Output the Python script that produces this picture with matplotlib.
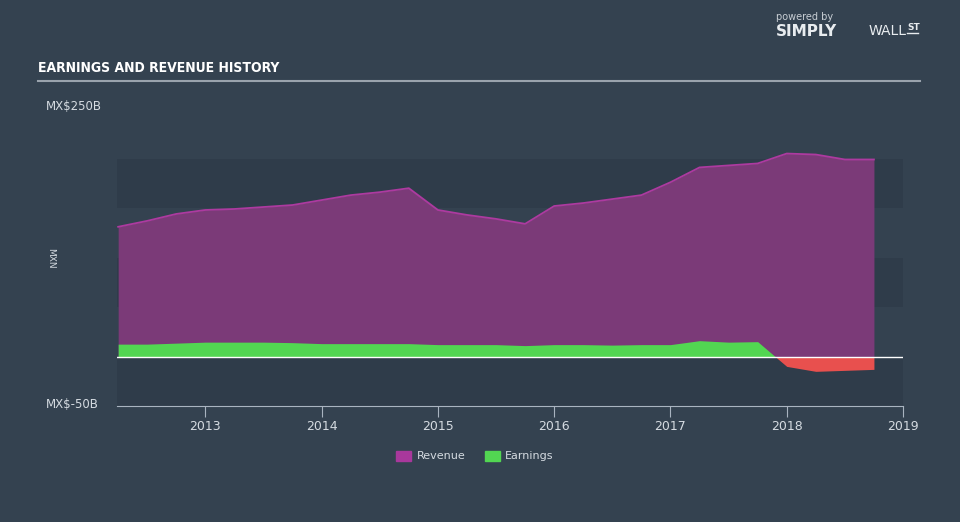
import matplotlib
matplotlib.use("Agg")
import matplotlib.pyplot as plt
from matplotlib.patches import Patch
from matplotlib import font_manager

# quarterly data, MXN billions
dates = [2012.25, 2012.5, 2012.75, 2013.0, 2013.25, 2013.5, 2013.75,
         2014.0, 2014.25, 2014.5, 2014.75, 2015.0, 2015.25, 2015.5, 2015.75,
         2016.0, 2016.25, 2016.5, 2016.75, 2017.0, 2017.25, 2017.5, 2017.75,
         2018.0, 2018.25, 2018.5, 2018.75]
revenue = [131, 137, 144, 148, 149, 151, 153,
           158, 163, 166, 170, 148, 143, 139, 134,
           152, 155, 159, 163, 176, 191, 193, 195,
           205, 204, 199, 199]
earnings = [12.5, 12.5, 13.5, 14.5, 14.5, 14.5, 14,
            13, 13, 13, 13, 12, 12, 12, 11,
            12, 12, 11.5, 12, 12, 16, 14.5, 15,
            -10, -15, -14, -13]
years = [2013, 2014, 2015, 2016, 2017, 2018, 2019]

bg = "#344250"
band = "#2f3c4a"
txt = "#d5dbe1"

# look for a narrow/condensed face for the title
narrow = None
for f in font_manager.fontManager.ttflist:
    n = f.name.lower()
    if "narrow" in n or "condensed" in n or f.stretch in ("condensed", "semi-condensed",
                                                           "extra-condensed", 625, 750, 500):
        narrow = f
        if f.weight in ("bold", 700):
            break

fig = plt.figure(figsize=(9.6, 5.22), dpi=100, facecolor=bg)
ax = fig.add_axes([117 / 960, 1 - 406 / 522, 786 / 960, 297 / 522])
ax.set_facecolor(bg)
ax.set_xlim(2012.24, 2019.0)
ax.set_ylim(-50, 250)

for lo, hi in [(-50, 0), (50, 100), (150, 200)]:
    ax.axhspan(lo, hi, color=band, lw=0, zorder=0)

ax.fill_between(dates, 0, revenue, color="#7b3a78", lw=0, zorder=1)
ax.plot(dates, revenue, color="#ad3aa0", lw=1.3, zorder=2)
ax.fill_between(dates, 0, earnings, where=[e >= 0 for e in earnings],
                interpolate=True, color="#52d652", lw=0, zorder=3)
ax.fill_between(dates, 0, earnings, where=[e <= 0 for e in earnings],
                interpolate=True, color="#e8504e", lw=0, zorder=3)
ax.axhline(0, color="white", lw=1, zorder=4)

for s in ["top", "right", "left"]:
    ax.spines[s].set_visible(False)
ax.spines["bottom"].set_color("#a9b4c0")
ax.set_yticks([])
ax.set_xticks(years)
ax.set_xticklabels([str(y) for y in years], fontsize=9)
ax.tick_params(axis="x", colors="#a9b4c0", length=8, labelcolor=txt, pad=2)

fig.text(46 / 960, 1 - 107 / 522, "MX$250B", color=txt, fontsize=8.5, va="center")
fig.text(46 / 960, 1 - 405 / 522, "MX$-50B", color=txt, fontsize=8.5, va="center")
fig.text(51 / 960, 1 - 258 / 522, "MXN", color=txt, fontsize=6.5, rotation=270,
         va="center", ha="center")

title = "EARNINGS AND REVENUE HISTORY"
if narrow is not None:
    fig.text(38 / 960, 1 - 68 / 522, title, color="white", va="center",
             fontproperties=font_manager.FontProperties(fname=narrow.fname, size=10))
else:
    fig.text(38 / 960, 1 - 68 / 522, title, color="white",
             fontsize=8, fontweight="bold", va="center")
fig.add_artist(plt.Line2D([38 / 960, 920 / 960], [1 - 81 / 522, 1 - 81 / 522],
                          color="#9aa3ad", lw=1.5))

fig.text(776 / 960, 1 - 17 / 522, "powered by", color="#c8ced4", fontsize=7, va="center")
fig.text(776 / 960, 1 - 31 / 522, "SIMPLY", color="#e8ecef", fontsize=11,
         fontweight="bold", va="center")
fig.text(869 / 960, 1 - 31 / 522, "WALL", color="#e8ecef", fontsize=10, va="center")
fig.text(907 / 960, 1 - 28 / 522, "ST", color="#e8ecef", fontsize=6.5,
         fontweight="bold", va="center")
fig.add_artist(plt.Line2D([907 / 960, 918 / 960], [1 - 33 / 522, 1 - 33 / 522],
                          color="#e8ecef", lw=1))

handles = [Patch(color="#a8389c", label="Revenue"), Patch(color="#52d652", label="Earnings")]
leg = fig.legend(handles=handles, loc="center", bbox_to_anchor=(475 / 960, 1 - 456 / 522),
                 ncol=2, frameon=False, fontsize=8, handlelength=1.35, handleheight=1.0,
                 columnspacing=1.8, handletextpad=0.45)
for t in leg.get_texts():
    t.set_color(txt)

fig.savefig("out.png", dpi=100, facecolor=bg)
